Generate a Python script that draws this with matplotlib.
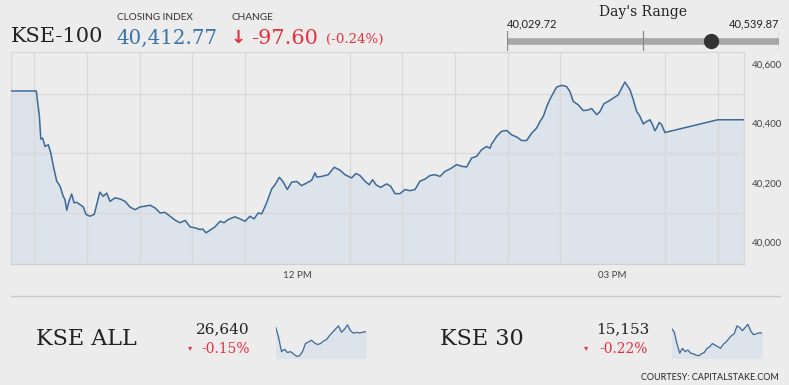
import matplotlib
matplotlib.use('Agg')
import matplotlib.pyplot as plt

W, H = 789, 385
BG = '#ececec'
LINE = '#3e6a98'
FILL = '#dce3ea'
GRID = '#d8d8d8'
RED = '#e8303f'
BLUE = '#3b74a9'
DARK = '#222222'

# KSE-100 intraday, minute of day -> index level
times = [556, 571, 571.3, 572.8, 573.6, 574.7, 576.0, 577.9, 579.3, 580.8, 582.7,
         584.6, 586.4, 587.4, 588.4, 589.7, 591.2, 592.6, 594.1, 596.0, 597.9,
         599.4, 601.7, 604.1, 605.5, 607.3, 609.3, 611.2, 613.1, 616.0, 618.9,
         621.7, 624.5, 627.4, 630.2, 633.1, 636.0, 638.8, 641.7, 644.5, 647.4,
         650.2, 653.1, 656.0, 658.8, 661.6, 664.5, 666.0, 667.9, 670.2, 673.0,
         675.9, 678.2, 680.6, 684.4, 687.3, 690.2, 693.0, 695.3, 697.7, 699.7,
         702.5, 705.4, 707.3, 709.7, 711.7, 714.3, 716.8, 719.7, 722.5, 725.4,
         728.2, 730.1, 731.1, 733.9, 737.7, 741.1, 744.4, 747.2, 751.0, 753.5,
         755.8, 758.6, 761.1, 763.0, 764.9, 767.6, 771.0, 773.3, 775.8, 778.6,
         781.5, 784.3, 787.2, 790.0, 792.9, 795.7, 798.6, 801.4, 804.3, 807.1,
         811.0, 813.8, 816.7, 819.5, 822.4, 825.2, 828.1, 830.0, 830.9, 833.8,
         836.6, 839.5, 842.4, 845.2, 848.1, 850.9, 853.8, 856.6, 858.5, 860.4,
         862.4, 864.2, 866.1, 868.0, 870.9, 873.7, 875.6, 877.5, 880.4, 883.2,
         886.1, 888.0, 890.9, 892.8, 895.0, 897.5, 900.3, 903.2, 905.1, 907.0,
         909.9, 911.8, 913.7, 915.6, 917.5, 919.4, 921.3, 922.8, 924.1, 925.1,
         926.6, 928.0, 929.8, 960.0, 975]
index_vals = [40510, 40510, 40497, 40424, 40348, 40351, 40323, 40329, 40301, 40256, 40206,
              40189, 40155, 40144, 40108, 40138, 40163, 40133, 40135, 40127, 40119,
              40094, 40088, 40094, 40127, 40169, 40155, 40166, 40138, 40150, 40146,
              40138, 40119, 40110, 40119, 40122, 40125, 40116, 40099, 40101, 40088,
              40075, 40066, 40074, 40052, 40049, 40043, 40045, 40032, 40041, 40052,
              40071, 40066, 40077, 40086, 40079, 40071, 40088, 40079, 40099, 40096,
              40133, 40180, 40194, 40219, 40206, 40178, 40203, 40205, 40191, 40200,
              40209, 40234, 40220, 40222, 40228, 40253, 40243, 40228, 40217, 40232,
              40225, 40206, 40194, 40211, 40194, 40185, 40197, 40189, 40164, 40164,
              40178, 40174, 40178, 40206, 40213, 40225, 40228, 40222, 40239, 40247,
              40262, 40256, 40254, 40284, 40290, 40312, 40323, 40317, 40331, 40357,
              40374, 40377, 40362, 40355, 40343, 40343, 40368, 40385, 40407, 40424,
              40458, 40482, 40503, 40523, 40529, 40525, 40508, 40475, 40463, 40444,
              40446, 40451, 40430, 40441, 40467, 40475, 40486, 40497, 40519, 40540,
              40514, 40480, 40441, 40424, 40399, 40407, 40413, 40396, 40376, 40385,
              40404, 40396, 40370, 40413, 40413]

y_ticks = [40000, 40200, 40400, 40600]
y_tick_labels = ['40,000', '40,200', '40,400', '40,600']
x_ticks = [720, 900]
x_tick_labels = ['12 PM', '03 PM']

day_low, day_high, close = 40029.72, 40539.87, 40412.77

# sparklines (relative levels)
kse_all_spark = [96, 63, 18, 25, 15, 18, 11, 3, 5, 18, 43, 48, 53, 45, 40, 43, 51, 55,
                 68, 78, 88, 98, 78, 88, 101, 83, 75, 78, 76, 78, 80]
kse30_spark = [91, 78, 43, 13, 28, 18, 23, 13, 11, 7, 5, 11, 15, 28, 33, 43, 38, 33,
               28, 41, 48, 58, 68, 73, 98, 93, 83, 93, 103, 83, 71, 73, 76, 76]


def box(x0, y0, x1, y1):
    return [x0 / W, 1 - y1 / H, (x1 - x0) / W, (y1 - y0) / H]


def txt(x, y, s, **kw):
    fig.text(x / W, 1 - y / H, s, **kw)


fig = plt.figure(figsize=(W / 100, H / 100), dpi=100, facecolor=BG)

# main chart
ax = fig.add_axes(box(11, 52, 743.7, 264))
ax.set_facecolor(BG)
ax.fill_between(times, index_vals, 39900, color=FILL, zorder=1)
ax.plot(times, index_vals, color=LINE, lw=1.1, zorder=3)
ax.set_xlim(556.6, 974.8)
ax.set_ylim(39927, 40641.3)
ax.set_yticks(range(40000, 40700, 100), minor=True)
ax.set_xticks(range(570, 961, 30), minor=True)
ax.grid(which='minor', color=GRID, lw=0.9, zorder=0)
ax.set_yticks(y_ticks)
ax.set_yticklabels(y_tick_labels)
ax.set_xticks(x_ticks)
ax.set_xticklabels(x_tick_labels)
ax.yaxis.tick_right()
ax.tick_params(which='both', length=0)
ax.tick_params(axis='y', pad=6, labelsize=7, labelcolor='#444444')
ax.tick_params(axis='x', pad=5, labelsize=7, labelcolor='#444444')
for lab in ax.get_xticklabels() + ax.get_yticklabels():
    lab.set_fontfamily('Lato')
for s in ['top', 'left', 'right']:
    ax.spines[s].set_color(GRID)
    ax.spines[s].set_linewidth(0.9)
ax.spines['bottom'].set_color('#cfcfcf')

# header
txt(11, 37, 'KSE-100', fontsize=15, family='DejaVu Serif', color=DARK, va='center')
txt(117, 17, 'CLOSING INDEX', fontsize=7.2, family='Lato', color='#333333', va='center')
txt(116, 38, '40,412.77', fontsize=14.3, family='DejaVu Serif', color=BLUE, va='center')
txt(232, 17, 'CHANGE', fontsize=7.2, family='Lato', color='#333333', va='center')
txt(231, 38, '\u2193', fontsize=13, family='DejaVu Sans', color=RED, va='center', weight='bold')
txt(251, 38, '-97.60', fontsize=15, family='DejaVu Serif', color=RED, va='center')
txt(326, 39, '(-0.24%)', fontsize=9.6, family='DejaVu Serif', color=RED, va='center')

# day's range
txt(643, 12, "Day's Range", fontsize=10, family='DejaVu Serif', color=DARK,
    ha='center', va='center')
txt(507, 24, f'{day_low:,.2f}', fontsize=8, family='Lato', color=DARK, va='center')
txt(779, 24, f'{day_high:,.2f}', fontsize=8, family='Lato', color=DARK,
    ha='right', va='center')
axr = fig.add_axes(box(507, 31, 779, 51))
axr.set_xlim(day_low, day_high)
axr.set_ylim(0, 1)
axr.axis('off')
axr.plot([day_low, day_high], [0.5, 0.5], color='#a8a8a8', lw=4.8, solid_capstyle='butt')
for v in [day_low, (day_low + day_high) / 2, day_high]:
    axr.plot([v, v], [0, 1], color='#8a8a8a', lw=0.9)
axr.plot([close], [0.5], 'o', color='#333333', ms=10, clip_on=False)

# separator
fig.add_artist(plt.Line2D([11 / W, 780 / W], [1 - 295.5 / H] * 2, color='#c9c9c9', lw=1))


def spark(x0, data):
    a = fig.add_axes(box(x0, 323, x0 + 90, 358))
    xs = range(len(data))
    a.fill_between(xs, data, -5, color=FILL)
    a.plot(xs, data, color=LINE, lw=0.9)
    a.set_xlim(0, len(data) - 1)
    a.set_ylim(-2, 107)
    a.axis('off')


txt(36, 339, 'KSE ALL', fontsize=16, family='DejaVu Serif', color=DARK, va='center')
txt(250, 329, '26,640', fontsize=11, family='DejaVu Serif', color=DARK, ha='right', va='center')
txt(250, 349, '-0.15%', fontsize=10, family='DejaVu Serif', color=RED, ha='right', va='center')
txt(190, 348, '\u25be', fontsize=6, color=RED, ha='center', va='center')
spark(275.5, kse_all_spark)

txt(440, 339, 'KSE 30', fontsize=16, family='DejaVu Serif', color=DARK, va='center')
txt(649, 329, '15,153', fontsize=11, family='DejaVu Serif', color=DARK, ha='right', va='center')
txt(648, 349, '-0.22%', fontsize=10, family='DejaVu Serif', color=RED, ha='right', va='center')
txt(586, 348, '\u25be', fontsize=6, color=RED, ha='center', va='center')
spark(671.5, kse30_spark)

txt(779, 377, 'COURTESY: CAPITALSTAKE.COM', fontsize=6.5, family='Lato', color=DARK,
    ha='right', va='center')

fig.savefig('out.png', dpi=100, facecolor=BG)
